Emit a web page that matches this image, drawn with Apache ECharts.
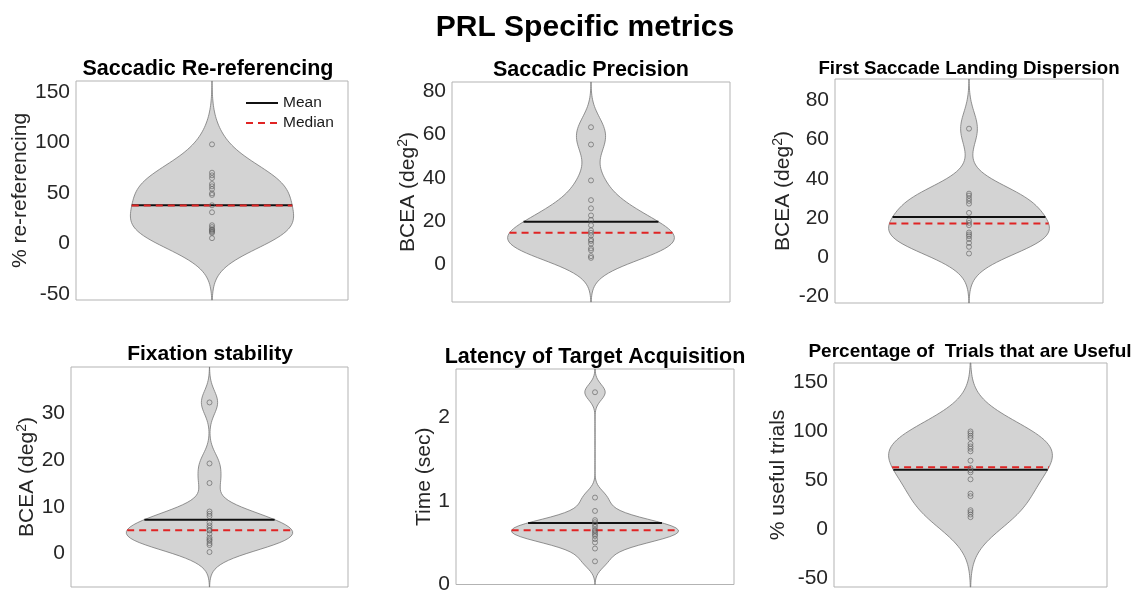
<!DOCTYPE html>
<html>
<head>
<meta charset="utf-8">
<script src="https://cdn.jsdelivr.net/npm/echarts@6/dist/echarts.min.js"></script>
<style>
  html, body { margin: 0; padding: 0; background: #fff; }
  #chart { width: 1134px; height: 595px; }
</style>
</head>
<body>
<div id="chart"></div>
<script>
// ---- per-subject values for each metric ----
const rereferencing = [98, 70, 67.4, 64.7, 58.8, 56.5, 53.9, 49.6, 48, 37.8, 30.9, 18.1, 16.2, 14.2, 13.5, 12.5, 11.5, 10.5, 5.3];
const saccadicPrecision = [63.4, 55.4, 38.8, 29.7, 25.9, 22.6, 20.5, 18.1, 15.7, 14.6, 13.4, 11.5, 10.8, 9.5, 7.4, 6.5, 3.8, 3.0];
const landingDispersion = [65.5, 32.4, 31.4, 30, 28.7, 27.3, 22.6, 18.7, 17.5, 16.3, 12.6, 11.6, 10.7, 9.3, 7.3, 5.3, 1.9];
const fixationStability = [32.4, 19.3, 15.1, 9.0, 8.5, 8.0, 6.6, 6.0, 5.5, 5.0, 4.9, 4.2, 3.4, 3.0, 2.7, 2.2, 1.8, 0.3];
const acquisitionLatency = [2.30, 1.04, 0.88, 0.77, 0.745, 0.72, 0.69, 0.655, 0.64, 0.62, 0.60, 0.58, 0.543, 0.503, 0.43, 0.277];
const usefulTrials = [100, 98, 95.6, 93.2, 87.4, 84.7, 82.4, 79.7, 70.2, 62.7, 60.4, 58.3, 51.2, 36.6, 34, 19.7, 17.7, 15.3, 12.6];

// summary lines
const meanValues = [37.8, 19.7, 20.5, 7.25, 0.737, 61.0];
const medianValues = [37.6, 14.6, 17.2, 5.0, 0.648, 63.4];

// kernel bandwidth and y-axis extent of each panel
const bandwidths = [20.5, 6.8, 8.4, 2.5, 0.093, 23.6];
const yMin = [-55.8, -17.4, -23.3, -7.2, 0, -58.6];
const yMax = [160.6, 84.3, 90.8, 40.0, 2.578, 169.8];

// tick labels
const yTicks = [
  [-50, 0, 50, 100, 150],
  [0, 20, 40, 60, 80],
  [-20, 0, 20, 40, 60, 80],
  [0, 10, 20, 30],
  [0, 1, 2],
  [-50, 0, 50, 100, 150]
];

const panelTitles = [
  'Saccadic Re-referencing',
  'Saccadic Precision',
  'First Saccade Landing Dispersion',
  'Fixation stability',
  'Latency of Target Acquisition',
  'Percentage of  Trials that are Useful'
];
const axisNames = [
  '{a|% re-referencing}',
  '{a|BCEA (deg}{s|2}{a|)}',
  '{a|BCEA (deg}{s|2}{a|)}',
  '{a|BCEA (deg}{s|2}{a|)}',
  '{a|Time (sec)}',
  '{a|% useful trials}'
];

const metrics = [rereferencing, saccadicPrecision, landingDispersion, fixationStability, acquisitionLatency, usefulTrials];

// ---- layout ----
const grids = [
  { left: 76, top: 81, width: 272, height: 219 },
  { left: 452, top: 82, width: 278, height: 220 },
  { left: 835, top: 79, width: 268, height: 224 },
  { left: 71, top: 367, width: 277, height: 220 },
  { left: 456, top: 369, width: 278, height: 221 },
  { left: 834, top: 363, width: 273, height: 224 }
];
const titlePos = [
  { x: 208, y: 58.5, size: 21.5 },
  { x: 591, y: 59, size: 21.5 },
  { x: 969, y: 59, size: 18.7 },
  { x: 210, y: 344, size: 21 },
  { x: 595, y: 346.5, size: 21.5 },
  { x: 970, y: 342.5, size: 19 }
];
const nameGaps = [40, 27, 40, 32, 18, 39];

const FONT = 'Liberation Sans, Arial, Helvetica, sans-serif';
const HALF_WIDTH = 0.3;

// Gaussian kernel density on an even grid spanning the axis range
function kde(values, bw, lo, hi, n) {
  const out = [];
  for (let i = 0; i < n; i++) {
    const y = lo + (hi - lo) * i / (n - 1);
    let s = 0;
    for (const v of values) {
      const z = (y - v) / bw;
      s += Math.exp(-0.5 * z * z);
    }
    out.push([y, s / (values.length * bw * Math.sqrt(2 * Math.PI))]);
  }
  const peak = Math.max(...out.map(p => p[1]));
  return out.map(p => [p[0], p[1] / peak * HALF_WIDTH]);
}

function widthAt(profile, y) {
  for (let i = 1; i < profile.length; i++) {
    if (profile[i][0] >= y) {
      const [y0, w0] = profile[i - 1];
      const [y1, w1] = profile[i];
      return w0 + (w1 - w0) * (y - y0) / (y1 - y0);
    }
  }
  return profile[profile.length - 1][1];
}

const option = {
  backgroundColor: '#fff',
  animation: false,
  title: [
    {
      text: 'PRL Specific metrics',
      left: 585, top: 13, textAlign: 'center', padding: 0,
      textStyle: { fontFamily: FONT, fontSize: 30, fontWeight: 'bold', color: '#000' }
    }
  ],
  legend: {
    left: 245, top: 95, orient: 'vertical', padding: 0,
    itemWidth: 32, itemHeight: 14, itemGap: 4,
    selectedMode: false,
    data: ['Mean', 'Median'],
    itemStyle: { color: 'rgba(0,0,0,0)', borderWidth: 0, opacity: 0 },
    textStyle: { fontFamily: FONT, fontSize: 15.5, color: '#1a1a1a' }
  },
  grid: [], xAxis: [], yAxis: [], series: []
};

metrics.forEach((vals, k) => {
  const g = grids[k];
  option.grid.push({
    left: g.left, top: g.top, width: g.width, height: g.height,
    show: true, borderColor: '#b3b3b3', borderWidth: 1, backgroundColor: '#fff'
  });
  option.xAxis.push({
    gridIndex: k, type: 'value', min: 0.5, max: 1.5,
    axisLine: { show: false }, axisTick: { show: false },
    axisLabel: { show: false }, splitLine: { show: false }
  });
  option.yAxis.push({
    gridIndex: k, type: 'value', min: yMin[k], max: yMax[k],
    name: axisNames[k], nameLocation: 'middle', nameGap: nameGaps[k], nameRotate: 90,
    nameTextStyle: {
      color: '#262626', fontFamily: FONT,
      rich: {
        a: { fontSize: 21, fontFamily: FONT, color: '#262626' },
        s: { fontSize: 14, fontFamily: FONT, color: '#262626', padding: [0, 0, 10, 0] }
      }
    },
    axisLine: { show: false },
    axisTick: { show: false },
    splitLine: { show: false },
    axisLabel: {
      customValues: yTicks[k], margin: 6,
      fontFamily: FONT, fontSize: 21, color: '#262626'
    }
  });
  const t = titlePos[k];
  option.title.push({
    text: panelTitles[k], left: t.x, top: t.y, textAlign: 'center', padding: 0,
    textStyle: { fontFamily: FONT, fontSize: t.size, fontWeight: 'bold', color: '#000' }
  });

  const profile = kde(vals, bandwidths[k], yMin[k], yMax[k], 100);
  const outline = profile.map(p => [1 + p[1], p[0]])
    .concat(profile.slice().reverse().map(p => [1 - p[1], p[0]]));

  option.series.push({
    type: 'custom', xAxisIndex: k, yAxisIndex: k, z: 1, silent: true,
    data: [[1, (yMin[k] + yMax[k]) / 2]],
    renderItem: (params, api) => ({
      type: 'polygon',
      shape: { points: outline.map(p => api.coord(p)) },
      style: { fill: '#d3d3d3', stroke: '#777', lineWidth: 0.8 }
    })
  });

  const wm = widthAt(profile, meanValues[k]);
  option.series.push({
    name: 'Mean', type: 'line', xAxisIndex: k, yAxisIndex: k, z: 3,
    symbol: 'none', silent: true,
    data: [[1 - wm, meanValues[k]], [1 + wm, meanValues[k]]],
    lineStyle: { color: '#111', width: 2 },
    itemStyle: { color: '#111' }
  });
  const wd = widthAt(profile, medianValues[k]);
  option.series.push({
    name: 'Median', type: 'line', xAxisIndex: k, yAxisIndex: k, z: 4,
    symbol: 'none', silent: true,
    data: [[1 - wd, medianValues[k]], [1 + wd, medianValues[k]]],
    lineStyle: { color: '#e02424', width: 2, type: [7, 5] },
    itemStyle: { color: '#e02424' }
  });
  option.series.push({
    type: 'scatter', xAxisIndex: k, yAxisIndex: k, z: 5, silent: true,
    symbol: 'circle', symbolSize: 5,
    data: vals.map(v => [1, v]),
    itemStyle: { color: 'rgba(0,0,0,0)', borderColor: '#5f5f5f', borderWidth: 0.8 }
  });
});

const chart = echarts.init(document.getElementById('chart'), null, { renderer: 'canvas' });
chart.setOption(option);
</script>
</body>
</html>
